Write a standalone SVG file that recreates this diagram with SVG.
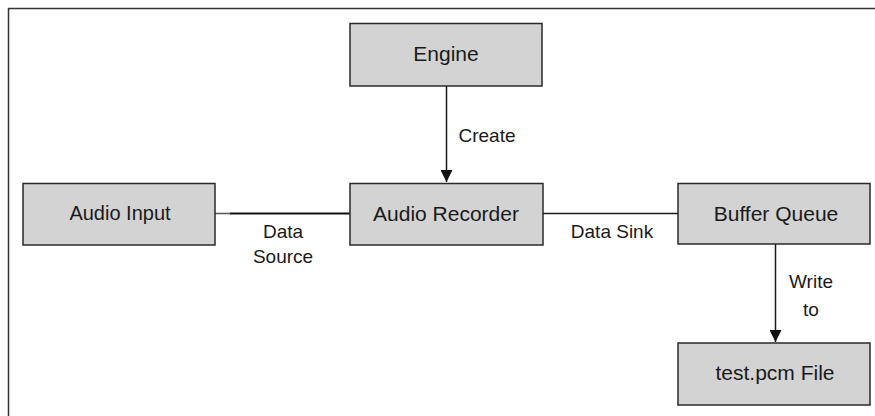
<svg xmlns="http://www.w3.org/2000/svg" width="875" height="416" viewBox="0 0 875 416">
<style>
.box{fill:#d3d3d3;stroke:#2a2a2a;stroke-width:1.5}
.t{font-family:"Liberation Sans",Arial,sans-serif;fill:#1a1a1a;text-anchor:middle}
.title{font-size:21px}
.lbl{font-size:19px}
.ln{stroke:#1a1a1a;stroke-width:1.5;fill:none}
</style>
<defs>
<marker id="arr" viewBox="0 0 12 12" refX="12" refY="6" markerWidth="12" markerHeight="12" markerUnits="userSpaceOnUse" orient="auto">
<path d="M0,0 L12,6 L0,12 Z" fill="#111"/>
</marker>
</defs>
<rect width="875" height="416" fill="#fff"/>
<path d="M8.5,416 V8.5 H875" fill="none" stroke="#333" stroke-width="1.5"/>
<g id="connectors">
<line class="ln" x1="446.5" y1="86" x2="446.5" y2="182" marker-end="url(#arr)"/>
<line x1="215" y1="213.5" x2="230" y2="213.5" stroke="#555" stroke-width="1.5"/>
<line x1="230" y1="213.5" x2="350" y2="213.5" stroke="#111" stroke-width="2.2"/>
<line class="ln" x1="543" y1="213.5" x2="678" y2="213.5"/>
<line class="ln" x1="775.5" y1="244" x2="775.5" y2="342" marker-end="url(#arr)"/>
<text class="t lbl" x="487" y="142">Create</text>
<text class="t lbl" x="283" y="238">Data</text>
<text class="t lbl" x="283" y="263">Source</text>
<text class="t lbl" x="612" y="238">Data Sink</text>
<text class="t lbl" x="811" y="288">Write</text>
<text class="t lbl" x="811" y="316">to</text>
</g>
<g id="engine">
<rect class="box" x="350" y="23.5" width="192" height="62.5"/>
<text class="t title" x="446" y="61">Engine</text>
</g>
<g id="audio-input">
<rect class="box" x="23" y="183.5" width="192" height="61.5"/>
<text class="t title" x="120" y="220" style="font-size:20px">Audio Input</text>
</g>
<g id="audio-recorder">
<rect class="box" x="350" y="183.5" width="193" height="61.5"/>
<text class="t title" x="446" y="221">Audio Recorder</text>
</g>
<g id="buffer-queue">
<rect class="box" x="678" y="183.5" width="192" height="60.5"/>
<text class="t title" x="776" y="221">Buffer Queue</text>
</g>
<g id="test-pcm">
<rect class="box" x="678" y="343" width="192" height="62"/>
<text class="t title" x="775" y="380">test.pcm File</text>
</g>
</svg>
